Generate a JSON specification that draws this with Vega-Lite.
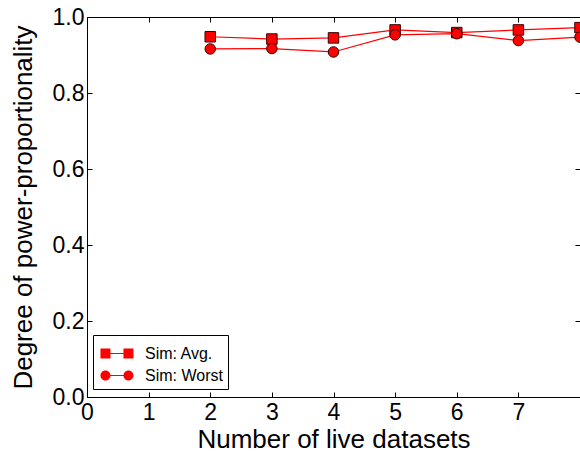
{
  "$schema": "https://vega.github.io/schema/vega-lite/v6.json",
  "width": 493,
  "height": 380,
  "autosize": "none",
  "padding": {"left": 87, "top": 17, "right": 0, "bottom": 58},
  "background": "white",
  "config": {
    "view": {"stroke": "#000000", "strokeWidth": 1},
    "font": "Liberation Sans",
    "axis": {
      "grid": false,
      "domain": false,
      "labelFlush": false,
      "tickColor": "#000000",
      "tickSize": -5,
      "tickWidth": 1,
      "labelFont": "Liberation Sans",
      "labelFontSize": 23,
      "labelColor": "#000000",
      "titleFont": "Liberation Sans",
      "titleFontSize": 26,
      "titleFontWeight": "normal",
      "titleColor": "#000000"
    }
  },
  "data": {
    "values": [
      {"n": 2, "value": 0.948, "series": "Sim: Avg."},
      {"n": 3, "value": 0.942, "series": "Sim: Avg."},
      {"n": 4, "value": 0.945, "series": "Sim: Avg."},
      {"n": 5, "value": 0.966, "series": "Sim: Avg."},
      {"n": 6, "value": 0.959, "series": "Sim: Avg."},
      {"n": 7, "value": 0.966, "series": "Sim: Avg."},
      {"n": 8, "value": 0.972, "series": "Sim: Avg."},
      {"n": 2, "value": 0.916, "series": "Sim: Worst"},
      {"n": 3, "value": 0.917, "series": "Sim: Worst"},
      {"n": 4, "value": 0.908, "series": "Sim: Worst"},
      {"n": 5, "value": 0.953, "series": "Sim: Worst"},
      {"n": 6, "value": 0.956, "series": "Sim: Worst"},
      {"n": 7, "value": 0.938, "series": "Sim: Worst"},
      {"n": 8, "value": 0.947, "series": "Sim: Worst"}
    ]
  },
  "layer": [
    {
      "mark": {"type": "line", "color": "#ff0000", "strokeWidth": 1.2},
      "encoding": {
        "x": {
          "field": "n", "type": "quantitative",
          "scale": {"domain": [0, 8], "nice": false},
          "axis": {
            "title": "Number of live datasets",
            "values": [0, 1, 2, 3, 4, 5, 6, 7, 8],
            "labelExpr": "datum.value == 8 ? '' : datum.label",
            "labelPadding": 9,
            "titlePadding": 2
          }
        },
        "y": {
          "field": "value", "type": "quantitative",
          "scale": {"domain": [0, 1], "nice": false},
          "axis": {
            "title": "Degree of power-proportionality",
            "values": [0, 0.2, 0.4, 0.6, 0.8, 1.0],
            "format": ".1f",
            "labelPadding": 8,
            "titlePadding": 16
          }
        },
        "detail": {"field": "series"}
      }
    },
    {
      "mark": {"type": "point", "filled": true, "fill": "#ff0000", "stroke": "#3a0000", "strokeWidth": 1, "opacity": 1, "size": 110},
      "encoding": {
        "x": {"field": "n", "type": "quantitative", "axis": null},
        "y": {"field": "value", "type": "quantitative", "axis": null},
        "shape": {
          "field": "series",
          "scale": {"domain": ["Sim: Avg.", "Sim: Worst"], "range": ["square", "circle"]},
          "legend": null
        }
      }
    },
    {
      "mark": {"type": "point", "filled": true, "fill": "#ff0000", "stroke": "#3a0000", "strokeWidth": 0.8, "opacity": 0, "size": 0},
      "encoding": {
        "x": {
          "field": "n", "type": "quantitative",
          "axis": {"orient": "top", "labels": false, "title": null, "values": [0, 1, 2, 3, 4, 5, 6, 7, 8]}
        },
        "y": {
          "field": "value", "type": "quantitative",
          "axis": {"orient": "right", "labels": false, "title": null, "values": [0, 0.2, 0.4, 0.6, 0.8, 1.0]}
        },
        "shape": {
          "field": "series",
          "scale": {
            "domain": ["Sim: Avg.", "Sim: Worst"],
            "range": [
              "M-0.85,-0.385H-0.08V0.385H-0.85Z M-0.08,-0.04H0.92V0.04H-0.08Z M0.92,-0.385H1.69V0.385H0.92Z",
              "M-0.85,0A0.385,0.385 0 1,0 -0.08,0A0.385,0.385 0 1,0 -0.85,0Z M-0.08,-0.04H0.92V0.04H-0.08Z M0.92,0A0.385,0.385 0 1,0 1.69,0A0.385,0.385 0 1,0 0.92,0Z"
            ]
          },
          "legend": {
            "title": null,
            "orient": "none",
            "legendX": 6,
            "legendY": 318,
            "padding": 5,
            "strokeColor": "#000000",
            "fillColor": "#ffffff",
            "symbolSize": 676,
            "symbolOpacity": 1,
            "symbolFillColor": "#ff0000",
            "symbolStrokeColor": "#3a0000",
            "symbolStrokeWidth": 0.8,
            "labelFont": "Liberation Sans",
            "labelFontSize": 16,
            "labelColor": "#000000",
            "labelOffset": 20,
            "rowPadding": 0
          }
        }
      }
    }
  ],
  "resolve": {
    "scale": {"shape": "independent"},
    "axis": {"x": "independent", "y": "independent"}
  }
}
